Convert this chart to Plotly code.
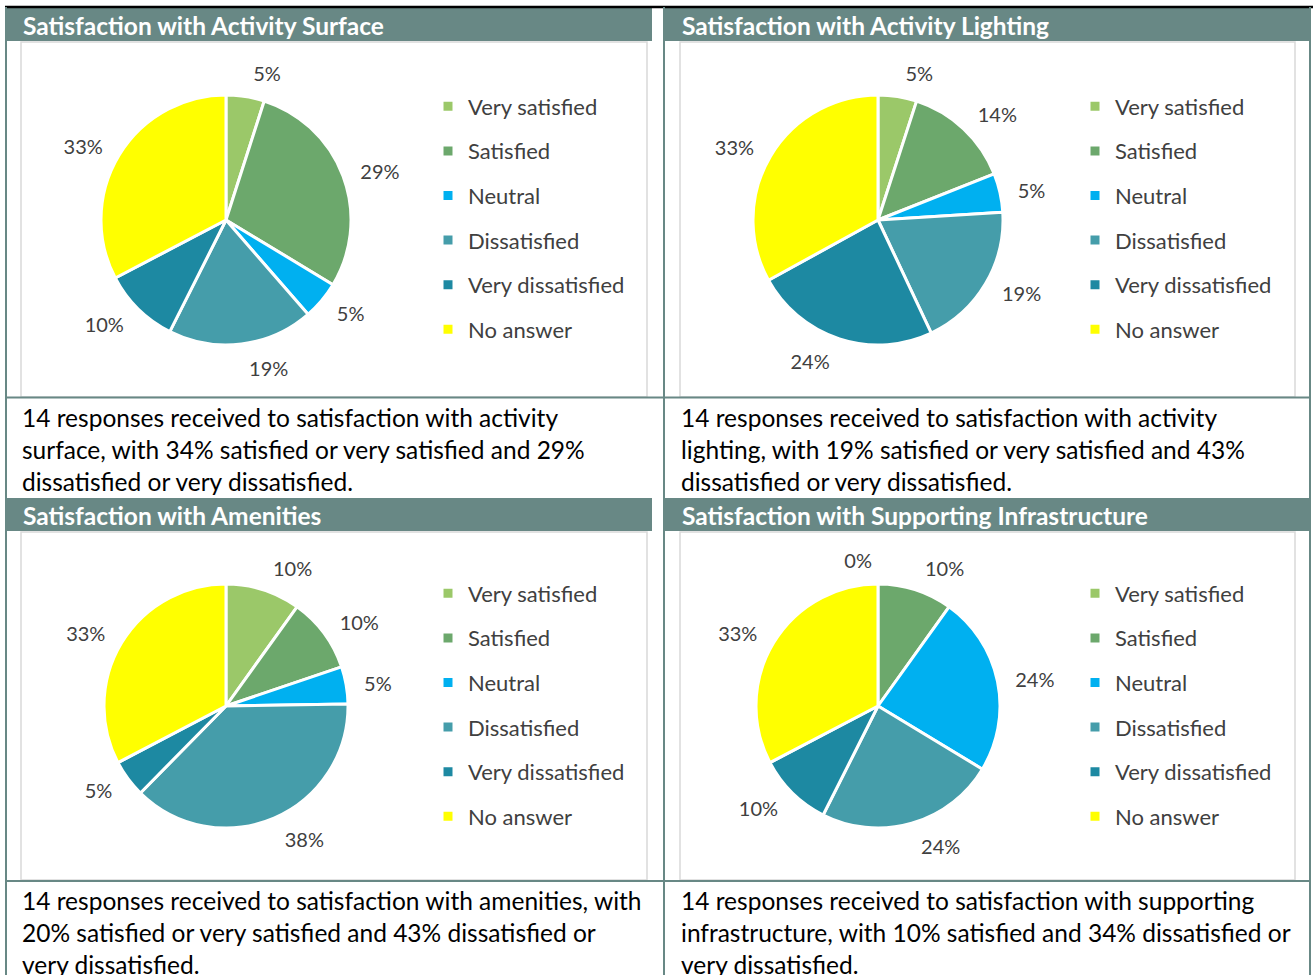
import plotly.graph_objects as go

# categories shared by all four questions
categories = ["Very satisfied", "Satisfied", "Neutral", "Dissatisfied",
              "Very dissatisfied", "No answer"]
colors = ["#9BC869", "#6CA86C", "#00B0F0", "#459DAA", "#1D89A2", "#FFFF00"]

# percentages
surface = [5, 29, 5, 19, 10, 33]
lighting = [5, 14, 5, 19, 24, 33]
amenities = [10, 10, 5, 38, 5, 33]
infrastructure = [0, 10, 24, 24, 10, 33]

titles = ["Satisfaction with Activity Surface",
          "Satisfaction with Activity Lighting",
          "Satisfaction with Amenities",
          "Satisfaction with Supporting Infrastructure"]

captions = [
    ["14 responses received to satisfaction with activity",
     "surface, with 34% satisfied or very satisfied and 29%",
     "dissatisfied or very dissatisfied."],
    ["14 responses received to satisfaction with activity",
     "lighting, with 19% satisfied or very satisfied and 43%",
     "dissatisfied or very dissatisfied."],
    ["14 responses received to satisfaction with amenities, with",
     "20% satisfied or very satisfied and 43% dissatisfied or",
     "very dissatisfied."],
    ["14 responses received to satisfaction with supporting",
     "infrastructure, with 10% satisfied and 34% dissatisfied or",
     "very dissatisfied."],
]

W, H = 1313, 975
FONT = "Lato, 'Open Sans', sans-serif"
HEAD = "#688885"
LABEL_GAP = 12  # data labels sit a little off the pie edge, like Excel


def px(x):
    return x / W


def py(y):
    return 1 - y / H


def domain(cx, cy, r):
    return dict(x=[px(cx - r), px(cx + r)], y=[py(cy + r), py(cy - r)])


fig = go.Figure()

# pie centre / radius in pixels, legend position, panel origin
panels = [
    dict(cx=226, cy=220, r=125, lx=428, ly=79, ox=6, oy=8),
    dict(cx=878, cy=220, r=125, lx=1075, ly=79, ox=665, oy=8),
    dict(cx=226, cy=706, r=122, lx=428, ly=566, ox=6, oy=498),
    dict(cx=878, cy=706, r=122, lx=1075, ly=566, ox=665, oy=498),
]
series = [surface, lighting, amenities, infrastructure]

shapes = []
annotations = []
for i, (p, vals) in enumerate(zip(panels, series)):
    leg = "legend" if i == 0 else f"legend{i + 1}"
    # the pie itself
    fig.add_trace(go.Pie(
        labels=[f'<span style="font-size:22px;baseline-shift:4px">{c}</span>'
                for c in categories],
        values=vals,
        textinfo="none",
        sort=False,
        direction="clockwise",
        rotation=-0.01,
        marker=dict(colors=colors, line=dict(color="white", width=3)),
        domain=domain(p["cx"], p["cy"], p["r"]),
        legend=leg,
        legendgroup=f"g{i}",
        hoverinfo="skip",
    ))
    # transparent twin, slightly larger, carrying the percentage labels
    fig.add_trace(go.Pie(
        labels=categories,
        values=vals,
        text=[f"{v}%" for v in vals],
        textinfo="text",
        textposition="outside",
        sort=False,
        direction="clockwise",
        # a hair left of 12 o'clock so an empty first slice labels on the left
        rotation=-0.01,
        marker=dict(colors=["rgba(0,0,0,0)"] * len(vals), line=dict(width=0)),
        outsidetextfont=dict(family=FONT, size=20, color="#404040"),
        domain=domain(p["cx"], p["cy"], p["r"] + LABEL_GAP),
        showlegend=False,
        hovertemplate="%{label}: %{text}<extra></extra>",
    ))

    ox, oy = p["ox"], p["oy"]
    # header bar
    shapes.append(dict(type="rect", xref="paper", yref="paper",
                       x0=px(ox), x1=px(ox + 646), y0=py(oy + 33), y1=py(oy),
                       fillcolor=HEAD, line=dict(width=0), layer="below"))
    annotations.append(dict(text=f"<b>{titles[i]}</b>", xref="paper", yref="paper",
                            x=px(ox + 15), y=py(oy + 17), xanchor="left",
                            yanchor="middle", showarrow=False,
                            font=dict(family=FONT, size=24.5, color="white")))
    # chart frame
    top = oy + 34
    bottom = 397 if i < 2 else 880
    shapes.append(dict(type="rect", xref="paper", yref="paper",
                       x0=px(ox + 15), x1=px(ox + 641 if i % 2 == 0 else ox + 630),
                       y0=py(bottom), y1=py(top),
                       line=dict(color="#D9D9D9", width=1.5), layer="below"))
    # caption lines
    for j, line in enumerate(captions[i]):
        annotations.append(dict(text=line, xref="paper", yref="paper",
                                x=px(ox + 14), y=py(bottom + 20 + 32 * j),
                                xanchor="left", yanchor="middle", showarrow=False,
                                font=dict(family=FONT, size=24.5, color="black")))

# table rules
line = dict(color="#688885", width=2)
shapes.append(dict(type="line", xref="paper", yref="paper", x0=px(5), x1=1,
                   y0=py(7), y1=py(7), line=dict(color="black", width=2.5)))
for x in (6, 664, 1310):
    shapes.append(dict(type="line", xref="paper", yref="paper", x0=px(x), x1=px(x),
                       y0=0, y1=py(7), line=line))
for y in (397.5, 881):
    shapes.append(dict(type="line", xref="paper", yref="paper", x0=px(6), x1=px(1310),
                       y0=py(y), y1=py(y), line=line))

legend_style = dict(font=dict(family=FONT, size=32, color="#404040"),
                    bgcolor="rgba(0,0,0,0)", borderwidth=0,
                    xanchor="left", yanchor="top", traceorder="normal")
legends = {}
for i, p in enumerate(panels):
    key = "legend" if i == 0 else f"legend{i + 1}"
    legends[key] = dict(legend_style, x=px(p["lx"]), y=py(p["ly"]))

fig.update_layout(
    width=W, height=H,
    margin=dict(l=0, r=0, t=0, b=0),
    paper_bgcolor="white",
    plot_bgcolor="white",
    showlegend=True,
    shapes=shapes,
    annotations=annotations,
    **legends,
)

fig.write_html("out.html", config={"displayModeBar": False},
               post_script="document.body.style.margin='0';")
